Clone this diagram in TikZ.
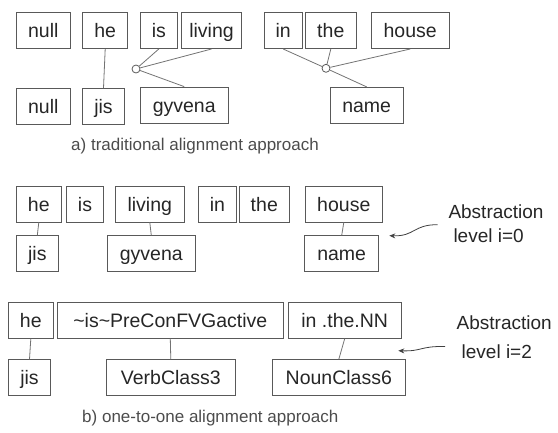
\documentclass[tikz,border=0pt]{standalone}
\usepackage{fontspec}
\setmainfont{Liberation Sans}
\usetikzlibrary{positioning,arrows.meta}

\begin{document}
\begin{tikzpicture}[x=1pt, y=-1pt,
    al box/.style={rectangle, draw=black!65, line width=0.8pt, inner sep=0pt, minimum height=36pt, text height=16pt, text depth=2pt, font=\fontsize{19.5}{23}\selectfont, text=black!85},
    al link/.style={draw=black!55, line width=0.8pt},
    al join/.style={circle, draw=black!65, fill=white, line width=0.8pt, inner sep=0pt, minimum size=8pt},
    al caption/.style={font=\fontsize{17}{20}\selectfont, text=black!70, anchor=base},
    al note/.style={font=\fontsize{19}{24}\selectfont, align=left, text=black!85, anchor=north west, inner sep=0pt},
    al arrow/.style={{Stealth[length=6pt,width=5pt]}-, draw=black!75, line width=0.8pt}]

    \useasboundingbox (0,0) rectangle (558,432);

    % a) traditional alignment
    \node [al box, minimum width=54.7pt] (tnull) at (43.3,30.6) {null};
    \node [al box, minimum width=45pt] (the) at (105.2,30.6) {he};
    \node [al box, minimum width=37.7pt] (tis) at (158.8,30.6) {is};
    \node [al box, minimum width=59.6pt] (tliving) at (211.5,30.6) {living};
    \node [al box, minimum width=38.3pt] (tin) at (283.2,30.6) {in};
    \node [al box, minimum width=50.3pt] (tthe) at (330.8,30.6) {the};
    \node [al box, minimum width=78.3pt] (thouse) at (410.2,30.6) {house};

    \node [al box, minimum width=54.7pt] (tnullb) at (43.3,106.5) {null};
    \node [al box, minimum width=41.6pt] (tjis) at (103.5,106.5) {jis};
    \node [al box, minimum width=88.3pt] (tgyvena) at (184.2,105) {gyvena};
    \node [al box, minimum width=73.3pt] (tname) at (366.7,105.3) {name};

    \node [al join] (tjoina) at (136,69) {};
    \node [al join] (tjoinb) at (326,68.3) {};

    \draw [al link] (the.south) -- (tjis.north);
    \draw [al link] (tis.south) -- (tjoina);
    \draw [al link] (tliving.south) -- (tjoina);
    \draw [al link] (tjoina) -- (tgyvena.north);
    \draw [al link] (tin.south) -- (tjoinb);
    \draw [al link] (tthe.south) -- (tjoinb);
    \draw [al link] (thouse.south) -- (tjoinb);
    \draw [al link] (tjoinb) -- (tname.north);

    \node [al caption] (capa) at (195,150) {a) traditional alignment approach};

    % b) one-to-one, level 0
    \node [al box, minimum width=45.7pt] (ohe) at (38.8,204) {he};
    \node [al box, minimum width=37.4pt] (ois) at (85,204) {is};
    \node [al box, minimum width=69pt] (oliving) at (149.8,204) {living};
    \node [al box, minimum width=38.4pt] (oin) at (217.5,204) {in};
    \node [al box, minimum width=50pt] (othe) at (264.3,204) {the};
    \node [al box, minimum width=77.7pt] (ohouse) at (343.8,204) {house};

    \node [al box, minimum width=42.7pt] (ojis) at (37.3,253.8) {jis};
    \node [al box, minimum width=88.7pt] (ogyvena) at (151.3,253.8) {gyvena};
    \node [al box, minimum width=74pt] (oname) at (341.7,253.8) {name};

    \draw [al link] (ohe.south) -- (ojis.north);
    \draw [al link] (oliving.south) -- (ogyvena.north);
    \draw [al link] (ohouse.south) -- (oname.north);

    \node [al note] (lvlzero) at (448.3,205) {Abstraction\\\hspace*{5pt}level i=0};
    \coordinate (lvlzeroa) at (437.7,224.7);
    \coordinate (lvlzerob) at (389.3,235.7);
    \draw [al arrow] (lvlzerob) .. controls (415,236.5) and (413,224.5) .. (lvlzeroa);

    % b) one-to-one, level 2
    \node [al box, minimum width=45pt] (she) at (30.8,320.3) {he};
    \node [al box, minimum width=226pt] (sis) at (170.3,320.3) {\textasciitilde is\textasciitilde PreConFVGactive};
    \node [al box, minimum width=112.7pt] (sin) at (344.7,320.3) {in .the.NN};

    \node [al box, minimum width=42.4pt] (sjis) at (29.5,377.7) {jis};
    \node [al box, minimum width=128.3pt] (sverb) at (170.8,377.7) {VerbClass3};
    \node [al box, minimum width=132.3pt] (snoun) at (338.8,377.7) {NounClass6};

    \draw [al link] (she.south) -- (sjis.north);
    \draw [al link] (sis.south) -- (sverb.north);
    \draw [al link] (sin.south) -- (snoun.north);

    \node [al note] (lvltwo) at (456.5,316) {Abstraction\\[5pt]\hspace*{5pt}level i=2};
    \coordinate (lvltwoa) at (445,346.5);
    \coordinate (lvltwob) at (398.3,350.7);
    \draw [al arrow] (lvltwob) .. controls (422,351.5) and (420,346) .. (lvltwoa);

    \node [al caption] (capb) at (210.3,422.3) {b) one-to-one alignment approach};
\end{tikzpicture}
\end{document}
